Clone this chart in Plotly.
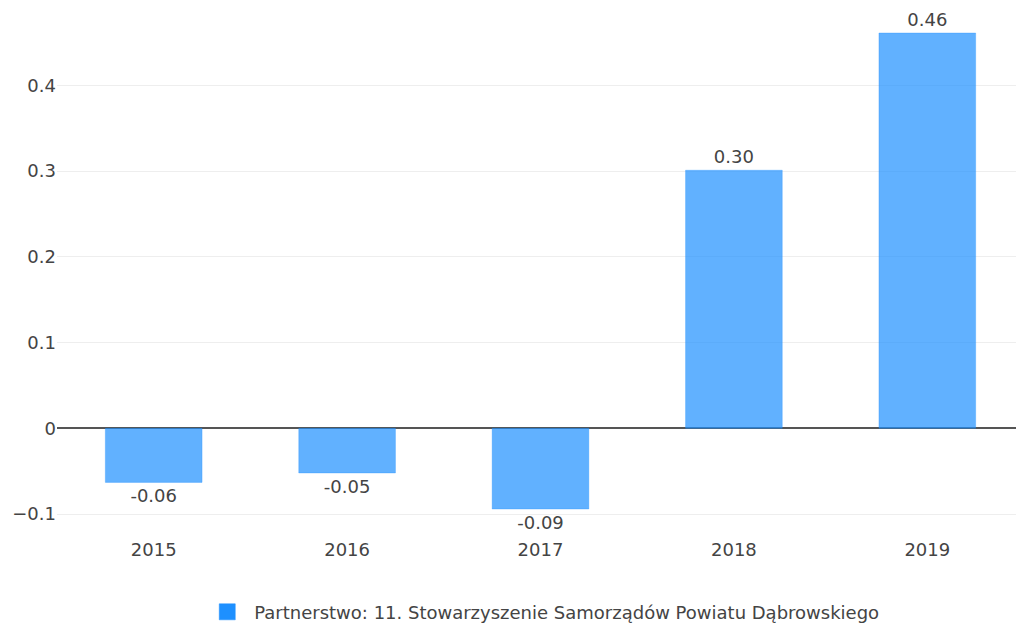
import plotly.graph_objects as go

years = ["2015", "2016", "2017", "2018", "2019"]
values = [-0.063, -0.052, -0.094, 0.301, 0.461]
series_name = "Partnerstwo: 11. Stowarzyszenie Samorządów Powiatu Dąbrowskiego"
y_ticks = [-0.1, 0, 0.1, 0.2, 0.3, 0.4]
y_tick_labels = ["\u22120.1", "0", "0.1", "0.2", "0.3", "0.4"]

FONT = "DejaVu Sans, Verdana, sans-serif"
FS = 18

fig = go.Figure()
fig.add_trace(go.Bar(
    x=years, y=values,
    text=[f"{v:.2f}" for v in values],
    textposition="outside",
    textfont=dict(family=FONT, size=FS, color="#444"),
    cliponaxis=False,
    marker=dict(color="rgba(30,144,255,0.7)", line=dict(color="rgba(30,144,255,0.3)", width=1)),
    showlegend=False,
    name=series_name,
))
fig.add_trace(go.Scatter(
    x=[None], y=[None], mode="markers",
    marker=dict(symbol="square", size=16, color="rgb(30,144,255)",
                line=dict(color="rgba(30,144,255,0.5)", width=1)),
    name=series_name, showlegend=True,
))

fig.update_layout(
    width=1016, height=624,
    margin=dict(l=57, r=0, t=9, b=91, autoexpand=False),
    paper_bgcolor="white", plot_bgcolor="white",
    font=dict(family=FONT, size=FS, color="#444"),
    bargap=0.5,
    xaxis=dict(type="category", range=[-0.5, 4.4586], showgrid=False,
               tickfont=dict(size=FS), ticks="", zeroline=False,
               ticklabelstandoff=4, automargin=False),
    yaxis=dict(range=[-0.122, 0.489], tickvals=y_ticks, ticktext=y_tick_labels,
               gridcolor="#eeeeee", gridwidth=1, zeroline=True,
               zerolinecolor="#555", zerolinewidth=1.5, tickfont=dict(size=FS),
               ticks="", ticklen=0, automargin=False),
    legend=dict(orientation="h", x=0.506, xanchor="center", y=-0.151, yanchor="middle",
                font=dict(size=FS), itemwidth=44),
)

fig.write_html("out.html",
               config={"displayModeBar": False},
               post_script="document.body.style.margin='0';document.body.style.overflow='hidden';")
